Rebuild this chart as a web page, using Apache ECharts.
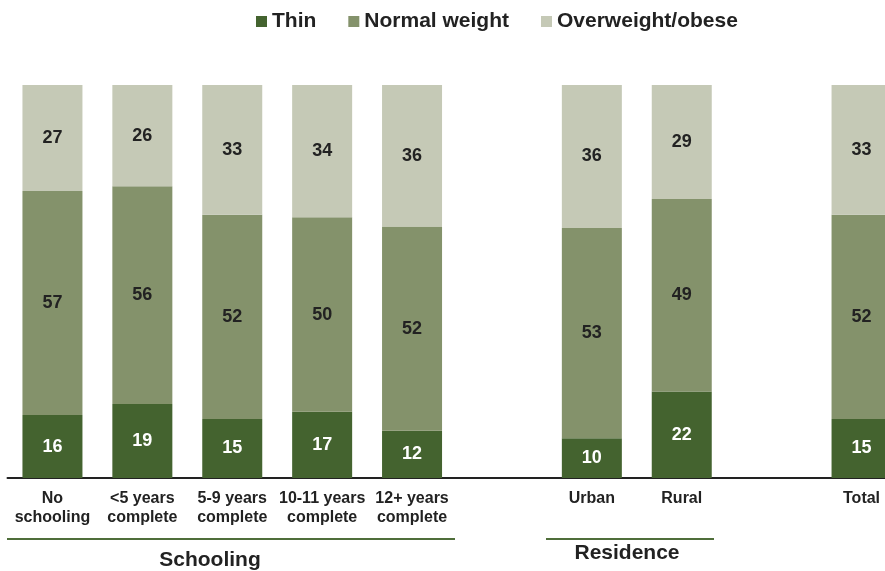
<!DOCTYPE html>
<html>
<head>
<meta charset="utf-8">
<script src="https://cdn.jsdelivr.net/npm/echarts@6/dist/echarts.min.js"></script>
<style>html,body{margin:0;padding:0;background:#fff;}#c{width:885px;height:571px;}</style>
</head>
<body>
<div id="c"></div>
<script>
const categories = ['No\nschooling', '<5 years\ncomplete', '5-9 years\ncomplete', '10-11 years\ncomplete', '12+ years\ncomplete', '', 'Urban', 'Rural', '', 'Total'];
const thin = [16, 19, 15, 17, 12, null, 10, 22, null, 15];
const normal = [57, 56, 52, 50, 52, null, 53, 49, null, 52];
const overweight = [27, 26, 33, 34, 36, null, 36, 29, null, 33];
const seriesNames = ['Thin', 'Normal weight', 'Overweight/obese'];
const groupNames = ['Schooling', 'Residence'];

const totals = categories.map((c, i) => thin[i] == null ? null : thin[i] + normal[i] + overweight[i]);
function pct(arr) {
  return arr.map((v, i) => v == null ? null : { value: v / totals[i] * 100, raw: v });
}
const colors = ['#44632f', '#84926b', '#c5c9b6'];
const font = 'Liberation Sans, Arial, sans-serif';

function mk(name, arr, color, labelColor) {
  return {
    name: name, type: 'bar', stack: 'all', barWidth: 60,
    data: pct(arr),
    itemStyle: { color: color },
    label: {
      show: true, position: 'inside', color: labelColor,
      fontFamily: font, fontWeight: 'bold', fontSize: 18,
      formatter: p => p.data && p.data.raw != null ? p.data.raw : ''
    },
    emphasis: { disabled: true }
  };
}

const chart = echarts.init(document.getElementById('c'));
chart.setOption({
  animation: false,
  legend: {
    top: 6, left: 251, itemWidth: 11, itemHeight: 11, itemGap: 32,
    icon: 'rect',
    textStyle: { fontFamily: font, fontWeight: 'bold', fontSize: 21, color: '#222' },
    data: seriesNames
  },
  grid: { left: 7.5, top: 85, width: 899, height: 393, outerBoundsMode: 'none', containLabel: false },
  xAxis: {
    type: 'category', data: categories,
    axisLine: { lineStyle: { color: '#222', width: 2 } },
    axisTick: { show: false },
    axisLabel: { interval: 0, fontFamily: font, fontWeight: 'bold', fontSize: 16, color: '#222', lineHeight: 19, margin: 11 }
  },
  yAxis: { type: 'value', min: 0, max: 100, show: false, splitLine: { show: false } },
  series: [
    mk(seriesNames[0], thin, colors[0], '#fff'),
    mk(seriesNames[1], normal, colors[1], '#222'),
    mk(seriesNames[2], overweight, colors[2], '#222')
  ],
  graphic: [
    { type: 'line', shape: { x1: 7, y1: 539, x2: 455, y2: 539 }, style: { stroke: '#4f6e3a', lineWidth: 2 } },
    { type: 'line', shape: { x1: 546, y1: 539, x2: 714, y2: 539 }, style: { stroke: '#4f6e3a', lineWidth: 2 } },
    { type: 'text', x: 210, y: 560, style: { text: groupNames[0], align: 'center', verticalAlign: 'middle', font: 'bold 21px ' + font, fill: '#222' } },
    { type: 'text', x: 627, y: 553, style: { text: groupNames[1], align: 'center', verticalAlign: 'middle', font: 'bold 21px ' + font, fill: '#222' } }
  ]
});
</script>
</body>
</html>
